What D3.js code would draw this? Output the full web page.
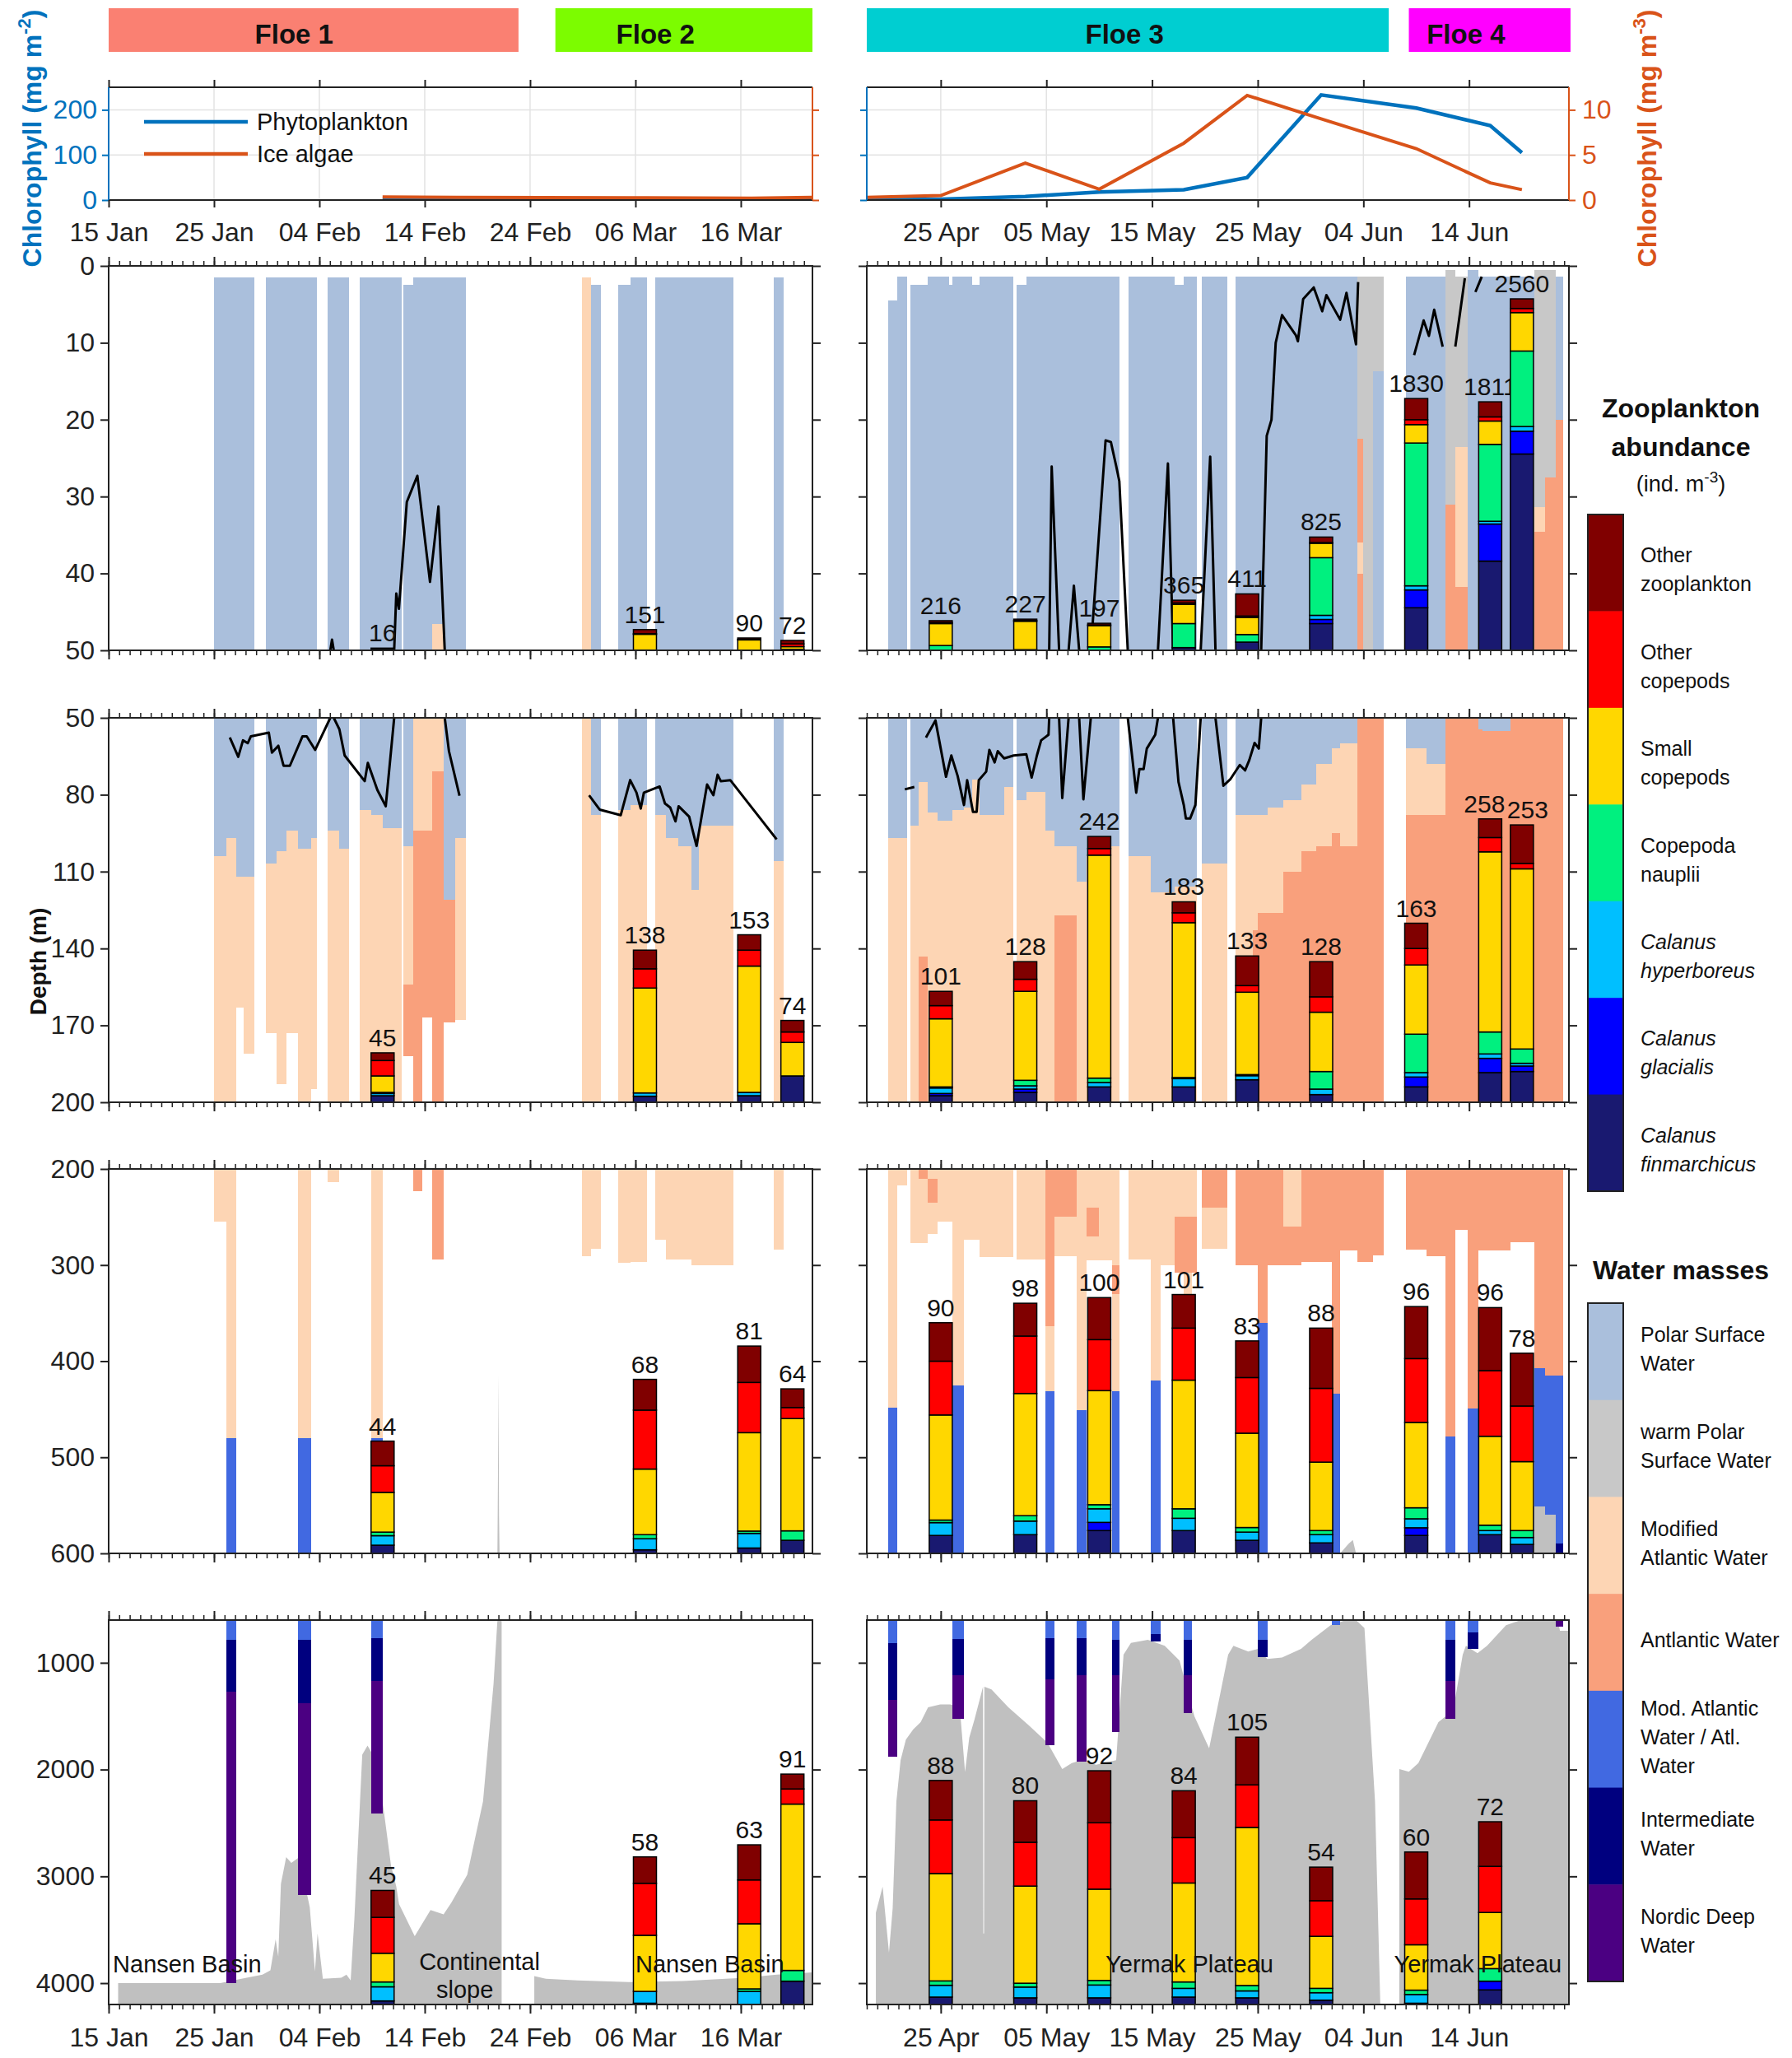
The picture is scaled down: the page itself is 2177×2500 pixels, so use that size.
<!DOCTYPE html>
<html>
<head>
<meta charset="utf-8">
<script src="https://cdn.jsdelivr.net/npm/d3@7"></script>
<style>
  body { margin: 0; background: #fff; }
</style>
</head>
<body>
<svg id="chart" width="2177" height="2500"></svg>
<script>
// ---------- data (days are day-of-year 2015, depths in m) ----------
var floeNames = ["Floe 1", "Floe 2", "Floe 3", "Floe 4"];
var floeStart = [15, 57.4, 108, 159.3];
var floeEnd = [53.9, 81.8, 157.4, 174.6];
var floeLabelDay = [32.6, 66.9, 132.4, 164.7];
var floeColors = ["#fa8072", "#7cfc00", "#00ced1", "#ff00ff"];

var leftTickLabels = ["15 Jan", "25 Jan", "04 Feb", "14 Feb", "24 Feb", "06 Mar", "16 Mar"];
var rightTickLabels = ["25 Apr", "05 May", "15 May", "25 May", "04 Jun", "14 Jun"];

var chlTicksLeft = [0, 100, 200];   // mg m-2
var chlTicksRight = [0, 5, 10];     // mg m-3

var phytoLeft = [[41, 1], [48, 1.5], [66, 1], [76, 1.5], [81.8, 2]];
var iceLeft = [[41, 0.35], [48, 0.3], [66, 0.25], [76, 0.2], [81.8, 0.3]];
var phytoRight = [[108, 0.5], [115, 1.8], [123, 7.9], [130, 18], [138, 23], [144, 50], [151, 233], [160, 204], [167, 165], [170, 105]];
var iceRight = [[108, 0.3], [115, 0.5], [123, 4.1], [130, 1.2], [138, 6.3], [144, 11.6], [151, 9.0], [160, 5.7], [167, 1.9], [170, 1.15]];

var depthRanges = [[0, 50], [50, 200], [200, 600], [600, 4200]];
var depthTicks = [[0, 10, 20, 30, 40, 50], [50, 80, 110, 140, 170, 200], [200, 300, 400, 500, 600], [1000, 2000, 3000, 4000]];
var abundanceMax = [2800, 350, 150, 150];

// zooplankton stations
var stationDays = [41, 65.9, 75.8, 79.9, 115, 123, 130, 138, 144, 151, 160, 167, 170];
var taxa = ["Calanus finmarchicus", "Calanus glacialis", "Calanus hyperboreus", "Copepoda nauplii", "Small copepods", "Other copepods", "Other zooplankton"];
var taxaColors = ["#191970", "#0000ff", "#00bfff", "#00f07f", "#ffd700", "#ff0000", "#800000"];

var total0_50 = [16, 151, 90, 72, 216, 227, 197, 365, 411, 825, 1830, 1811, 2560];
var comp0_50 = [
  [0, 0, 0, 0, 8, 3, 5], [2, 0, 0, 0, 115, 4, 30], [0, 0, 0, 0, 76, 4, 10], [5, 0, 0, 2, 20, 20, 25],
  [0, 0, 0, 35, 160, 8, 13], [0, 0, 0, 5, 207, 5, 10], [0, 0, 0, 25, 155, 5, 12], [20, 0, 0, 175, 140, 10, 20],
  [60, 0, 0, 55, 125, 10, 161], [195, 30, 30, 420, 105, 5, 40], [310, 130, 30, 1040, 134, 36, 154],
  [650, 270, 20, 560, 170, 30, 110], [1430, 166, 34, 550, 280, 30, 70]
];
var total50_200 = [45, 138, 153, 74, 101, 128, 242, 183, 133, 128, 163, 258, 253];
var comp50_200 = [
  [6, 0, 2, 1, 15, 14, 7], [5.5, 0, 3, 0, 95.5, 17.5, 17], [6, 0, 3, 0, 115, 14.5, 14], [24, 0, 0, 0, 30.5, 9.5, 10.5],
  [6, 2, 5, 1, 62, 12, 13], [9, 3, 3, 5, 81, 11, 16], [14, 0, 4, 4, 203, 6, 11], [14, 0, 7.5, 1, 141, 9, 10],
  [20.5, 0, 3.7, 1, 75, 6, 27], [7, 0, 5, 16, 54, 14, 32], [14, 9, 4, 35, 63, 15, 23],
  [27, 13, 4, 20, 164, 13, 17], [28, 5, 2.5, 13, 164, 5, 35]
];
var total200_600 = [44, 68, 81, 64, 90, 98, 100, 101, 83, 88, 96, 96, 78];
var comp200_600 = [
  [3.2, 0, 3.7, 1.4, 15.5, 10.4, 9.6], [1.4, 0, 4.3, 1.6, 25.6, 23, 12], [2.1, 0, 5.7, 0.9, 38.4, 19.6, 14.2], [5.1, 0, 0, 3.7, 43.8, 4.3, 7.3],
  [7, 0, 5, 1, 41, 21, 15], [7.3, 0, 5.3, 2.1, 47.7, 22.4, 12.8], [8.9, 3.2, 5.3, 1.6, 44.5, 19.9, 16.4], [8.9, 0, 4.8, 3.7, 50.2, 20.3, 13.1],
  [5.1, 0, 3.2, 1.8, 36.8, 21.7, 14.3], [4.1, 0, 3.2, 1.6, 26.7, 28.8, 23.5], [7, 3, 3.5, 4.3, 33.3, 24.9, 20.3],
  [7.3, 0, 1.6, 2.1, 34.7, 25.6, 24.6], [3.5, 0, 2.7, 2.7, 26.9, 21.7, 20.6]
];
var total600_bottom = [45, 58, 63, 91, 88, 80, 92, 84, 105, 54, 60, 72, null];
var comp600_bottom = [
  [1.4, 0, 5.5, 1.9, 11.2, 14, 10.5], [0.5, 0, 4.6, 0, 21.9, 20.3, 10.3], [0, 0, 5.1, 1, 25.4, 17.1, 13.7], [9.1, 0, 0, 4.2, 64.9, 5.9, 5.8],
  [2.9, 0, 4.6, 1.7, 41.9, 20.9, 15.4], [2.6, 0, 4.2, 1.5, 37.9, 17.1, 16.2], [2.6, 0, 5, 1.8, 35.6, 25.9, 20.3], [2.9, 0, 3.4, 2.5, 38.6, 17.7, 18.3],
  [2.6, 0, 2.7, 2.1, 61.7, 16.6, 18.6], [1.7, 0, 2.9, 1.7, 20.3, 13.9, 13.1], [0.5, 0, 3.4, 1.7, 17.7, 17.9, 18.3],
  [5.7, 3.4, 0, 4.9, 21.9, 18, 17.4], null
];
var totals = [total0_50, total50_200, total200_600, total600_bottom];
var comps = [comp0_50, comp50_200, comp200_600, comp600_bottom];

// water-mass profiles: [start day, end day, top depth, mass, bottom, mass, bottom, ...]
var massOrder = ["P", "W", "M", "A", "B", "I", "N"];
var massColors = ["#aabfdc", "#c8c8c8", "#fdd5b4", "#f9a07c", "#4169e1", "#00007f", "#4b0082"];
var profilesLeft = [
  [25.0, 26.2, 1.5, "P", 104, "M", 255],
  [26.2, 27.1, 1.5, "P", 97, "M", 480, "B", 785, "I", 1267, "N", 4003],
  [27.1, 27.8, 1.5, "P", 112, "M", 163],
  [27.8, 28.8, 1.5, "P", 112, "M", 181],
  [29.9, 30.9, 1.5, "P", 107, "M", 173],
  [30.9, 31.9, 1.5, "P", 102, "M", 193],
  [31.9, 33.0, 1.5, "P", 94, "M", 173],
  [33.0, 34.2, 1.5, "P", 101, "M", 480, "B", 785, "I", 1377, "N", 3178],
  [34.2, 34.8, 1.5, "P", 97, "M", 195],
  [35.8, 36.9, 1.5, "P", 94, "M", 214],
  [36.9, 37.8, 1.5, "P", 101, "M", 200],
  [38.8, 39.9, 1.5, "P", 86, "M", 200],
  [39.9, 41.0, 1.5, "P", 88, "M", 480, "B", 772, "I", 1170, "N", 2408],
  [41.0, 42.8, 1.5, "P", 93, "M", 200],
  [43.0, 43.9, 2.5, "P", 100, "M", 154, "A", 182],
  [43.9, 44.8, 1.5, "P", 50, "M", 94, "A", 223],
  [44.8, 45.7, 1.5, "P", 50, "M", 94, "A", 167],
  [45.7, 46.8, 1.5, "P", 46.6, "M", 71, "A", 294],
  [46.8, 47.9, 1.5, "P", 121, "A", 169],
  [47.9, 48.9, 1.5, "P", 97, "M", 168],
  [59.9, 60.8, 1.5, "M", 291],
  [60.8, 61.7, 2.5, "P", 88, "M", 283],
  [63.4, 64.5, 2.5, "P", 86, "M", 298],
  [64.5, 66.1, 1.5, "P", 84, "M", 297],
  [66.9, 67.9, 1.5, "P", 88, "M", 274],
  [67.9, 69.1, 1.5, "P", 97, "M", 294],
  [69.1, 70.3, 1.5, "P", 100, "M", 294],
  [70.3, 71.0, 1.5, "P", 117, "M", 300],
  [71.0, 74.3, 1.5, "P", 92, "M", 300],
  [78.1, 79.1, 1.5, "P", 106, "M", 284]
];
var profilesRight = [
  [110.0, 110.9, 4.5, "P", 97, "M", 448, "B", 813, "I", 1350, "N", 1880],
  [110.9, 111.8, 1.4, "P", 97, "M", 217],
  [112.1, 112.9, 2.5, "P", 92, "M", 277],
  [112.9, 113.8, 2.5, "P", 75, "M", 143, "A", 210, "M", 277],
  [113.8, 114.7, 1.4, "P", 87, "M", 210, "A", 235, "M", 268],
  [114.7, 115.8, 1.4, "P", 90, "M", 255],
  [115.8, 116.1, 2.5, "P", 90, "M", 255],
  [116.1, 117.2, 1.4, "P", 86, "M", 425, "B", 780, "I", 1115, "N", 1528],
  [117.2, 118.0, 1.4, "P", 85, "M", 274],
  [118.0, 118.7, 2.5, "P", 74, "M", 274],
  [118.7, 121.0, 1.4, "P", 88, "M", 292],
  [121.0, 121.85, 1.4, "P", 77, "M", 292],
  [122.15, 123.1, 2.5, "P", 82, "M", 294],
  [123.1, 124.9, 1.4, "P", 79, "M", 294],
  [124.9, 125.8, 1.4, "P", 94, "M", 200, "A", 364, "M", 431, "B", 772, "I", 1157, "N", 1775],
  [125.8, 127.9, 1.4, "P", 100, "M", 127, "A", 250, "M", 291],
  [127.9, 128.8, 1.4, "P", 114, "M", 451, "B", 772, "I", 1115, "N", 1927],
  [128.8, 130.0, 1.4, "P", 104, "M", 240, "A", 270, "M", 295],
  [130.0, 131.2, 1.4, "P", 100, "M", 295],
  [131.2, 131.9, 1.4, "P", 100, "M", 300, "A", 330, "M", 431, "B", 785, "I", 1115, "N", 1652],
  [132.8, 134.9, 1.4, "P", 104, "M", 294],
  [134.9, 135.8, 1.4, "P", 118, "M", 420, "B", 730, "I", 800],
  [135.8, 137.15, 1.4, "P", 118, "M", 300],
  [137.15, 138.0, 2.5, "P", 116, "M", 250, "A", 308],
  [138.0, 138.75, 1.4, "P", 116, "M", 250, "A", 308, "M", 430, "B", 785, "I", 1115, "N", 1473],
  [138.75, 139.2, 1.4, "P", 116, "M", 250, "A", 308],
  [139.7, 142.1, 1.4, "P", 107, "M", 200, "A", 240, "M", 283],
  [142.9, 144.5, 1.4, "P", 88, "M", 200, "A", 300],
  [144.5, 145.0, 1.4, "P", 88, "M", 133, "A", 300],
  [145.0, 145.9, 1.4, "P", 88, "M", 126, "A", 360, "B", 785, "I", 950],
  [145.9, 147.4, 1.4, "P", 85, "M", 126, "A", 300],
  [147.4, 149.1, 1.4, "P", 82, "M", 110, "A", 200, "M", 260, "A", 300],
  [149.1, 150.5, 1.4, "P", 76, "M", 102, "A", 297],
  [150.5, 152.0, 1.4, "P", 68, "M", 100, "A", 297],
  [152.0, 152.8, 1.4, "P", 62, "M", 95, "A", 434, "B", 648],
  [152.8, 154.4, 1.4, "P", 60, "M", 100, "A", 285],
  [154.4, 155.0, 1.4, "W", 22.5, "A", 36, "M", 40, "A", 297],
  [155.0, 155.9, 1.4, "W", 50, "A", 297],
  [155.9, 156.9, 1.4, "W", 13.75, "P", 50, "A", 290],
  [159.0, 161.0, 1.4, "P", 62, "M", 88, "A", 284],
  [161.0, 162.8, 1.4, "P", 68, "M", 88, "A", 291],
  [162.8, 163.7, 0.5, "W", 31, "A", 478, "B", 785, "I", 1170, "N", 1528],
  [163.7, 164.9, 1.4, "W", 23.6, "M", 41.8, "A", 263],
  [164.9, 165.9, 0.5, "P", 50, "A", 449, "B", 717, "I", 868],
  [165.9, 166.3, 1.4, "P", 54.5, "A", 285],
  [166.3, 168.95, 1.4, "P", 55, "A", 285],
  [168.95, 171.2, 1.4, "P", 50, "A", 276],
  [171.2, 172.2, 0.5, "W", 31.4, "M", 34.6, "A", 407, "B", 551],
  [172.2, 173.2, 0.5, "W", 27.5, "A", 415, "B", 560],
  [173.2, 173.9, 1.4, "P", 20, "A", 415, "B", 590, "I", 600, "N", 660]
];

// black line (upper layer depth), null = gap
var mldLeft = [
  [26.5, 57.7], [27.3, 65.2], [27.75, 58.8], [28.2, 59.9], [28.5, 57.2], [30.2, 55.8], [30.5, 63.6], [31.1, 60.9],
  [31.6, 68.7], [32.2, 68.7], [33.4, 57.2], [33.8, 57.2], [34.6, 62.5], [36.2, 48.6], [36.9, 54.5], [37.4, 64.7],
  [39.3, 74.7], [39.6, 67.6], [40.5, 78.1], [41.3, 84.5], [42.1, 50], [42.3, 42.6], [42.55, 44.6], [43.3, 30.7],
  [44.3, 27.3], [45.5, 41.1], [46.3, 31.3], [46.9, 50], [47.3, 63], [48.3, 80.4], null,
  [60.6, 80.2], [61.6, 85.8], [63.6, 88], [64.5, 74.3], [65.1, 79.2], [65.5, 85.4], [65.8, 79.2], [67.3, 76.8],
  [67.8, 83.4], [68.3, 85], [68.8, 90.4], [69.1, 84.5], [70.1, 88.6], [70.8, 100], [71.8, 76], [72.4, 80.2],
  [72.8, 72.2], [73.1, 74.7], [74, 74.3], [78.4, 97.4]
];
var mldRight = [
  [111.6, 77.9], [112.5, 77.0], null,
  [113.6, 57.7], [114.5, 51], [115.5, 73], [116.0, 64.7], [116.6, 72.7], [117.2, 84], [117.5, 74.3], [118.05, 86.7],
  [118.4, 86.7], [118.6, 74.3], [119.3, 71], [119.6, 62.5], [120.1, 67.4], [120.4, 63], [121, 65.8], [121.9, 64.7],
  [123.1, 64.2], [123.6, 73.3], [124.1, 64.7], [124.5, 58.8], [125.2, 56.6], [125.5, 26.1], [126.2, 50], [126.5, 81.3],
  [127.1, 50], [127.6, 41.6], [128.1, 50], [128.5, 81.8], [129.2, 50], [130.6, 22.7], [131.1, 22.9], [131.6, 26],
  [131.9, 28], [132.7, 50], [133.5, 79.2], [133.8, 70], [134.2, 70], [134.5, 62], [135.3, 56.6], [136.5, 25.7],
  [137.5, 75], [138, 84], [138.2, 89.3], [138.6, 89.3], [139.1, 84], [139.6, 50], [140.5, 24.8], [141, 50],
  [141.75, 76.5], [142.4, 74], [143.3, 68.4], [143.8, 70.5], [144.2, 66.5], [144.7, 59.8], [145.1, 62], [145.85, 22.1],
  [146.3, 20], [146.7, 10], [147.3, 6.4], [148.6, 9], [148.8, 9.8], [149.3, 4.3], [150.3, 2.8], [151.1, 5.9],
  [151.5, 3.8], [152.8, 7], [153.4, 3.5], [154.3, 10.2], [154.5, 2.1], null,
  [159.8, 11.6], [160.7, 7.1], [161.2, 9.1], [161.7, 5.7], [162.5, 10.5], null,
  [163.7, 10.5], [164.6, 1.6], null,
  [165.6, 3.4], [166.2, 1.4]
];

// seafloor depth (bathymetry), null = gap
var bathyLeft = [
  [15.9, 4000], [25.6, 4000], [27.6, 3960], [29.6, 3920], [30.35, 3880], [30.85, 3590], [31.1, 3750], [31.35, 3070],
  [31.85, 2820], [32.34, 2875], [33.09, 2820], [33.49, 3010], [34.09, 3290], [34.58, 3890], [34.83, 3535], [35.33, 3960],
  [37.08, 3950], [37.57, 3920], [37.97, 3975], [38.32, 3400], [39.07, 1860], [39.57, 1775], [40.07, 1860], [41.0, 2300],
  [41.8, 2900], [42.3, 3095], [42.56, 3260], [44.05, 3560], [45.55, 3315], [46.79, 3355], [47.54, 3245], [49.03, 2985],
  [50.53, 2300], [51.53, 1200], [51.9, 600], [51.95, 520], [52.0, 414], [52.05, 560], [52.1, 600], [52.3, 600], null,
  [55.4, 3935], [56.5, 3960], [59.5, 3975], [64.5, 3990], [69.5, 3980], [75.4, 3950], [78.4, 3920], [81.8, 3900]
];
var bathyRight = [
  [108.86, 3340], [109.5, 3095], [110.1, 3714], [110.45, 3300], [110.8, 2300], [111.2, 1913], [111.7, 1720], [112.4, 1624],
  [113.1, 1555], [113.8, 1418], [114.95, 1390], [115.9, 1390], [116.8, 1418], [117.3, 2023], [117.7, 1700], [118.2, 1528],
  [119.0, 1225], [119.03, 3535], [119.1, 3535], [119.13, 1225], [119.8, 1250], [121.4, 1418], [123.3, 1583], [125.1, 1748],
  [126.5, 1995], [127.4, 1940], [128.3, 1913], [129.7, 1955], [131.6, 1913], [132.3, 923], [133.0, 813], [134.6, 785],
  [136.2, 840], [137.6, 980], [139.0, 1500], [140.4, 1800], [141.3, 1363], [142.2, 923], [142.7, 840], [144.1, 895],
  [145.0, 870], [145.9, 965], [147.3, 950], [149.1, 870], [150.1, 785], [151.9, 648], [152.8, 620], [153.6, 590],
  [154.0, 586], [154.3, 600], [155.1, 675], [156.1, 2300], [156.6, 4200], null,
  [158.4, 1995], [159.3, 2020], [160.2, 1940], [162.1, 1555], [163.5, 1445], [164.4, 923], [164.7, 840], [165.8, 910],
  [166.7, 840], [168.5, 648], [169.9, 600], [170.5, 600], [171.0, 551], [173.3, 551], [173.6, 700], [174.45, 700]
];

// annotations in the deepest layer: [day, depth, text, anchor]
var regionLabels = [
  [15.4, 3900, "Nansen Basin", "start"], [50.2, 3880, "Continental", "middle"], [48.8, 4135, "slope", "middle"],
  [65.0, 3900, "Nansen Basin", "start"], [130.6, 3900, "Yermak Plateau", "start"], [157.9, 3900, "Yermak Plateau", "start"]
];

var taxaLegend = [["Other", "zooplankton"], ["Other", "copepods"], ["Small", "copepods"], ["Copepoda", "nauplii"],
  ["Calanus", "hyperboreus"], ["Calanus", "glacialis"], ["Calanus", "finmarchicus"]];
var massLegend = [["Polar Surface", "Water"], ["warm Polar", "Surface Water"], ["Modified", "Atlantic Water"], ["Antlantic Water"],
  ["Mod. Atlantic", "Water / Atl.", "Water"], ["Intermediate", "Water"], ["Nordic Deep", "Water"]];

// ---------- drawing ----------
var FONT = "'Liberation Sans', Arial, Helvetica, sans-serif";
var BLUE = "#0072bd", ORANGE = "#d95319", BATHY = "#c0c0c0";
var panelTop = [323, 872, 1420, 1968], panelH = 467;
var chlTop = 106, chlBottom = 243;
var barWidth = 28;
// small horizontal nudges of crowded total labels: "layer-station" -> px
var labelNudge = { "1-11": -7, "1-12": 7 };

var svg = d3.select("#chart").attr("font-family", FONT);
var defs = svg.append("defs");

function toDate(doy) { return new Date(Date.UTC(2015, 0, 1) + (doy - 1) * 864e5); }
var parseTick = function (s) { return d3.utcParse("%d %b %Y")(s + " 2015"); };
var fmtTick = d3.utcFormat("%d %b");
var massColor = {};
massOrder.forEach(function (m, i) { massColor[m] = massColors[i]; });

function styleAxis(g, color, size, width) {
  g.attr("font-family", FONT).attr("font-size", size);
  g.selectAll(".domain").remove();
  g.selectAll("line").attr("stroke", color).attr("stroke-width", width || 2);
  g.selectAll("text").attr("fill", color);
}

var sides = [
  { x: d3.scaleUtc().domain([toDate(15), toDate(81.8)]).range([132, 987]), ticks: leftTickLabels,
    profiles: profilesLeft, bathy: bathyLeft, mld: mldLeft, phyto: phytoLeft, ice: iceLeft, first: true },
  { x: d3.scaleUtc().domain([toDate(108), toDate(174.45)]).range([1053, 1906]), ticks: rightTickLabels,
    profiles: profilesRight, bathy: bathyRight, mld: mldRight, phyto: phytoRight, ice: iceRight, first: false }
];

sides.forEach(function (s, si) {
  var x0 = s.x.range()[0], x1 = s.x.range()[1];
  var tickDates = s.ticks.map(parseTick);
  var days = s.x.ticks(d3.utcDay.every(1));
  var stations = stationDays.map(function (d, i) { return { d: d, i: i }; })
    .filter(function (o) { return (o.d < 95) === s.first; });

  // segments of every profile
  var segs = [];
  s.profiles.forEach(function (pr) {
    var top = pr[2];
    for (var k = 3; k < pr.length; k += 2) {
      segs.push({ t0: pr[0], t1: pr[1], top: top, bottom: pr[k + 1], m: pr[k] });
      top = pr[k + 1];
    }
  });

  // ---- chlorophyll panel ----
  var yL = d3.scaleLinear().domain([0, 250]).range([chlBottom, chlTop]);
  var yR = d3.scaleLinear().domain([0, 12.5]).range([chlBottom, chlTop]);
  var cid = "clip-chl-" + si;
  defs.append("clipPath").attr("id", cid).append("rect")
    .attr("x", x0).attr("y", chlTop).attr("width", x1 - x0).attr("height", chlBottom - chlTop);

  svg.append("g").selectAll("line").data(tickDates).join("line")
    .attr("x1", function (d) { return s.x(d); }).attr("x2", function (d) { return s.x(d); })
    .attr("y1", chlTop).attr("y2", chlBottom).attr("stroke", "#e3e3e3").attr("stroke-width", 1.5);
  svg.append("g").selectAll("line").data([100, 200]).join("line")
    .attr("x1", x0).attr("x2", x1).attr("y1", function (d) { return yL(d); }).attr("y2", function (d) { return yL(d); })
    .attr("stroke", "#e3e3e3").attr("stroke-width", 1.5);

  var cg = svg.append("g").attr("clip-path", "url(#" + cid + ")");
  cg.append("path").datum(s.phyto).attr("fill", "none").attr("stroke", BLUE).attr("stroke-width", 4.5)
    .attr("d", d3.line().x(function (d) { return s.x(toDate(d[0])); }).y(function (d) { return yL(d[1]); }));
  cg.append("path").datum(s.ice).attr("fill", "none").attr("stroke", ORANGE).attr("stroke-width", 4)
    .attr("d", d3.line().x(function (d) { return s.x(toDate(d[0])); }).y(function (d) { return yR(d[1]); }));

  svg.append("line").attr("x1", x0).attr("x2", x1).attr("y1", chlTop).attr("y2", chlTop).attr("stroke", "#222").attr("stroke-width", 2);
  svg.append("line").attr("x1", x0).attr("x2", x1).attr("y1", chlBottom).attr("y2", chlBottom).attr("stroke", "#222").attr("stroke-width", 2);
  svg.append("line").attr("x1", x0).attr("x2", x0).attr("y1", chlTop).attr("y2", chlBottom).attr("stroke", BLUE).attr("stroke-width", 2);
  svg.append("line").attr("x1", x1).attr("x2", x1).attr("y1", chlTop).attr("y2", chlBottom).attr("stroke", ORANGE).attr("stroke-width", 2);

  svg.append("g").attr("transform", "translate(" + x0 + ",0)")
    .call(d3.axisLeft(yL).tickValues(chlTicksLeft).tickSize(8).tickPadding(6).tickFormat(s.first ? d3.format("d") : ""))
    .call(styleAxis, BLUE, 32);
  svg.append("g").attr("transform", "translate(" + x1 + ",0)")
    .call(d3.axisRight(yR).tickValues(chlTicksRight).tickSize(8).tickPadding(8).tickFormat(s.first ? "" : d3.format("d")))
    .call(styleAxis, ORANGE, 32);
  svg.append("g").attr("transform", "translate(0," + chlTop + ")")
    .call(d3.axisTop(s.x).tickValues(tickDates).tickSize(9).tickFormat(""))
    .call(styleAxis, "#222", 32);
  svg.append("g").attr("transform", "translate(0," + chlBottom + ")")
    .call(d3.axisBottom(s.x).tickValues(tickDates).tickSize(9).tickPadding(18).tickFormat(fmtTick))
    .call(styleAxis, "#222", 32);

  // ---- depth panels ----
  depthRanges.forEach(function (rng, p) {
    var top = panelTop[p], bot = top + panelH;
    var y = d3.scaleLinear().domain(rng).range([top, bot]);
    var id = "clip-" + si + "-" + p;
    defs.append("clipPath").attr("id", id).append("rect")
      .attr("x", x0).attr("y", top).attr("width", x1 - x0).attr("height", panelH);
    var g = svg.append("g").attr("clip-path", "url(#" + id + ")");

    g.append("path").datum(s.bathy).attr("fill", BATHY)
      .attr("d", d3.area().defined(function (d) { return d; })
        .x(function (d) { return s.x(toDate(d[0])); })
        .y0(function (d) { return y(Math.min(d[1], rng[1])); }).y1(bot));

    g.append("g").attr("shape-rendering", "crispEdges")
      .selectAll("rect")
      .data(segs.filter(function (d) { return d.bottom > rng[0] && d.top < rng[1]; }))
      .join("rect")
      .attr("x", function (d) { return s.x(toDate(d.t0)); })
      .attr("width", function (d) { return s.x(toDate(d.t1)) - s.x(toDate(d.t0)); })
      .attr("y", function (d) { return y(Math.max(d.top, rng[0])); })
      .attr("height", function (d) { return y(Math.min(d.bottom, rng[1])) - y(Math.max(d.top, rng[0])); })
      .attr("fill", function (d) { return massColor[d.m]; });

    g.append("path").datum(s.mld).attr("fill", "none").attr("stroke", "#000").attr("stroke-width", 3)
      .attr("stroke-linejoin", "round")
      .attr("d", d3.line().defined(function (d) { return d; })
        .x(function (d) { return s.x(toDate(d[0])); }).y(function (d) { return y(d[1]); }));

    // zooplankton stacked bars
    var a = d3.scaleLinear().domain([0, abundanceMax[p]]).range([0, panelH]);
    stations.forEach(function (o) {
      var comp = comps[p][o.i];
      if (!comp) return;
      var cx = s.x(toDate(o.d));
      var cum = 0;
      var stack = comp.map(function (v, k) { var r = { k: k, v0: cum, v1: cum + v }; cum += v; return r; })
        .filter(function (r) { return r.v1 > r.v0; });
      svg.append("g").selectAll("rect").data(stack).join("rect")
        .attr("x", cx - barWidth / 2).attr("width", barWidth)
        .attr("y", function (r) { return bot - a(r.v1); })
        .attr("height", function (r) { return a(r.v1) - a(r.v0); })
        .attr("fill", function (r) { return taxaColors[r.k]; })
        .attr("stroke", "#000").attr("stroke-width", 1.5);
      svg.append("text").attr("x", cx + (labelNudge[p + "-" + o.i] || 0)).attr("y", bot - a(cum) - 8)
        .attr("text-anchor", "middle").attr("font-size", 30).attr("fill", "#111")
        .text(totals[p][o.i]);
    });

    if (p === 3) {
      svg.append("g").selectAll("text")
        .data(regionLabels.filter(function (r) { return (r[0] < 95) === s.first; }))
        .join("text")
        .attr("x", function (r) { return s.x(toDate(r[0])); })
        .attr("y", function (r) { return y(r[1]); })
        .attr("text-anchor", function (r) { return r[3]; })
        .attr("font-size", 29).attr("fill", "#111")
        .text(function (r) { return r[2]; });
    }

    // frame and ticks
    svg.append("rect").attr("x", x0).attr("y", top).attr("width", x1 - x0).attr("height", panelH)
      .attr("fill", "none").attr("stroke", "#222").attr("stroke-width", 2);
    svg.append("g").attr("transform", "translate(0," + top + ")")
      .call(d3.axisTop(s.x).tickValues(days).tickSize(6).tickFormat("")).call(styleAxis, "#222", 32, 1.5);
    svg.append("g").attr("transform", "translate(0," + top + ")")
      .call(d3.axisTop(s.x).tickValues(tickDates).tickSize(11).tickFormat("")).call(styleAxis, "#222", 32);
    svg.append("g").attr("transform", "translate(0," + bot + ")")
      .call(d3.axisBottom(s.x).tickValues(days).tickSize(6).tickFormat("")).call(styleAxis, "#222", 32, 1.5);
    svg.append("g").attr("transform", "translate(0," + bot + ")")
      .call(d3.axisBottom(s.x).tickValues(tickDates).tickSize(11).tickPadding(17)
        .tickFormat(p === 3 ? fmtTick : ""))
      .call(styleAxis, "#222", 32);
    svg.append("g").attr("transform", "translate(" + x0 + ",0)")
      .call(d3.axisLeft(y).tickValues(depthTicks[p]).tickSize(10).tickPadding(7)
        .tickFormat(s.first ? d3.format("d") : ""))
      .call(styleAxis, "#222", 32);
    svg.append("g").attr("transform", "translate(" + x1 + ",0)")
      .call(d3.axisRight(y).tickValues(depthTicks[p]).tickSize(10).tickFormat(""))
      .call(styleAxis, "#222", 32);
  });
});

// floe bars
floeNames.forEach(function (name, i) {
  var s = floeStart[i] < 95 ? sides[0] : sides[1];
  var xa = s.x(toDate(floeStart[i])), xb = s.x(toDate(floeEnd[i]));
  svg.append("rect").attr("x", xa).attr("y", 10).attr("width", xb - xa).attr("height", 53).attr("fill", floeColors[i]);
  svg.append("text").attr("x", s.x(toDate(floeLabelDay[i]))).attr("y", 53).attr("text-anchor", "middle")
    .attr("font-size", 33).attr("font-weight", "bold").attr("fill", "#111").text(name);
});

// chlorophyll legend
[["Phytoplankton", BLUE, 148], ["Ice algae", ORANGE, 187]].forEach(function (d) {
  svg.append("line").attr("x1", 175).attr("x2", 301).attr("y1", d[2]).attr("y2", d[2])
    .attr("stroke", d[1]).attr("stroke-width", 4.5);
  svg.append("text").attr("x", 312).attr("y", d[2] + 10).attr("font-size", 29).attr("fill", "#111").text(d[0]);
});

// axis titles
function unitTitle(x, y, color, pre, sup) {
  var t = svg.append("text").attr("transform", "translate(" + x + "," + y + ") rotate(-90)")
    .attr("text-anchor", "middle").attr("font-size", 32).attr("font-weight", "bold").attr("fill", color);
  t.append("tspan").text(pre);
  t.append("tspan").attr("dy", -13).attr("font-size", 22).text(sup);
  t.append("tspan").attr("dy", 13).text(")");
}
unitTitle(50, 168, BLUE, "Chlorophyll (mg m", "-2");
unitTitle(2012, 168, ORANGE, "Chlorophyll (mg m", "-3");
svg.append("text").attr("transform", "translate(56,1168) rotate(-90)").attr("text-anchor", "middle")
  .attr("font-size", 28).attr("font-weight", "bold").attr("fill", "#111").text("Depth (m)");

// legends
function colorbar(top, bottom, colors, names, italicFrom, shift) {
  var h = (bottom - top) / colors.length;
  svg.append("g").selectAll("rect").data(colors).join("rect")
    .attr("x", 1929).attr("width", 43).attr("y", function (d, i) { return top + i * h; }).attr("height", h + 0.5)
    .attr("fill", function (d) { return d; });
  svg.append("rect").attr("x", 1929).attr("y", top).attr("width", 43).attr("height", bottom - top)
    .attr("fill", "none").attr("stroke", "#222").attr("stroke-width", 2);
  names.forEach(function (lines, i) {
    var cy = top + (i + 0.5) * h + shift;
    lines.forEach(function (line, j) {
      svg.append("text").attr("x", 1993).attr("y", cy - (lines.length - 1) * 35 / 2 + j * 35 + 9)
        .attr("font-size", 25).attr("fill", "#111")
        .attr("font-style", i >= italicFrom ? "italic" : "normal").text(line);
    });
  });
}
svg.append("text").attr("x", 2042).attr("y", 507).attr("text-anchor", "middle").attr("font-size", 32)
  .attr("font-weight", "bold").attr("fill", "#111").text("Zooplankton");
svg.append("text").attr("x", 2042).attr("y", 554).attr("text-anchor", "middle").attr("font-size", 32)
  .attr("font-weight", "bold").attr("fill", "#111").text("abundance");
var ind = svg.append("text").attr("x", 2042).attr("y", 597).attr("text-anchor", "middle").attr("font-size", 27).attr("fill", "#111");
ind.append("tspan").text("(ind. m");
ind.append("tspan").attr("dy", -11).attr("font-size", 19).text("-3");
ind.append("tspan").attr("dy", 11).text(")");
colorbar(625, 1447, taxaColors.slice().reverse(), taxaLegend, 4, 8);

svg.append("text").attr("x", 2042).attr("y", 1554).attr("text-anchor", "middle").attr("font-size", 32)
  .attr("font-weight", "bold").attr("fill", "#111").text("Water masses");
colorbar(1583, 2407, massColors, massLegend, 99, -3);
</script>
</body>
</html>
